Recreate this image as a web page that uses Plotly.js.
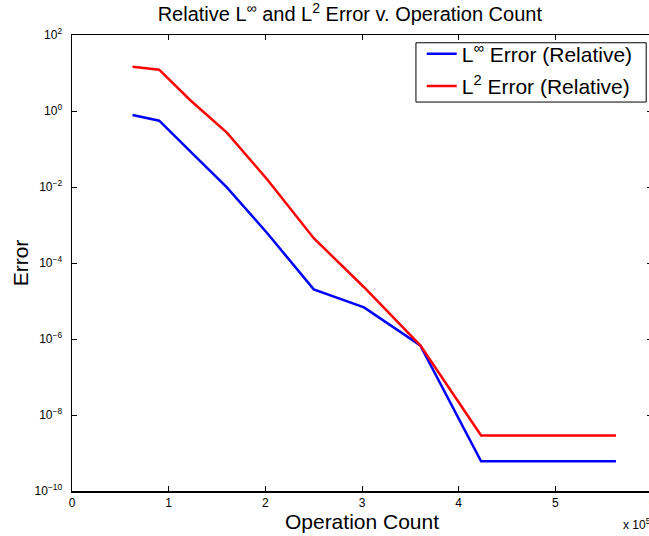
<!DOCTYPE html>
<html>
<head>
<meta charset="utf-8">
<script src="https://cdn.plot.ly/plotly-3.0.1.min.js"></script>
<style>
html,body{margin:0;padding:0;overflow:hidden;background:#fff;}
#chart{width:660px;height:536px;}
</style>
</head>
<body>
<div id="chart"></div>
<script>
// Operation count (x 10^5)
var opCount = [0.626, 0.902, 1.221, 1.602, 2.018, 2.501, 3.021, 3.603, 4.232, 5.627];
// Relative L-infinity error
var linfError = [0.785, 0.556, 0.0885, 0.0098, 6.15e-4, 2.03e-5, 6.8e-6, 6.8e-7, 6.05e-10, 6.05e-10];
// Relative L2 error
var l2Error = [14.7, 12.2, 1.95, 0.269, 0.016, 4.5e-4, 2.3e-5, 6.8e-7, 2.9e-9, 2.9e-9];

var yTickVals = [1e-10, 1e-8, 1e-6, 1e-4, 1e-2, 1e0, 1e2];
var yTickText = ['10<sup>−10</sup>', '10<sup>−8</sup>', '10<sup>−6</sup>', '10<sup>−4</sup>', '10<sup>−2</sup>', '10<sup>0</sup>', '10<sup>2</sup>'];
var xTickVals = [0, 1, 2, 3, 4, 5, 6];
var xTickText = ['0', '1', '2', '3', '4', '5', '6'];

var FONT = 'Liberation Sans, Arial, Helvetica, sans-serif';

var traces = [
  {x: opCount, y: linfError, type: 'scatter', mode: 'lines', name: 'L<sup>∞</sup> Error (Relative)',
   legendgroup: 'a', line: {color: '#0000ff', width: 2.5}},
  {x: opCount, y: l2Error, type: 'scatter', mode: 'lines', name: 'L<sup>2</sup> Error (Relative)',
   legendgroup: 'b', line: {color: '#ff0000', width: 2.5}}
];

var layout = {
  width: 660, height: 536,
  margin: {l: 72, r: 8, t: 35, b: 45},
  paper_bgcolor: '#fff', plot_bgcolor: '#fff',
  font: {family: FONT, color: '#000', size: 12},
  title: {text: 'Relative L<sup>∞</sup> and L<sup>2</sup> Error v. Operation Count',
          font: {family: FONT, size: 20, color: '#000'},
          x: 0.479, xref: 'paper', xanchor: 'center', y: 0.973, yref: 'container', yanchor: 'middle'},
  xaxis: {range: [0, 6], tickmode: 'array', tickvals: xTickVals, ticktext: xTickText,
          ticks: 'inside', ticklen: 5, tickcolor: '#000', showline: true, linecolor: '#000', linewidth: 1.5,
          mirror: 'ticks', showgrid: false, zeroline: false,
          tickfont: {size: 12, family: FONT},
          title: {text: 'Operation Count', font: {size: 21, family: FONT}, standoff: 5}},
  yaxis: {type: 'log', range: [-10, 2], tickmode: 'array', tickvals: yTickVals, ticktext: yTickText,
          ticks: 'inside', ticklen: 5, tickcolor: '#000', showline: true, linecolor: '#000', linewidth: 1.5,
          mirror: 'ticks', showgrid: false, zeroline: false, ticklabelstandoff: 6,
          tickfont: {size: 12, family: FONT},
          title: {text: 'Error', font: {size: 21, family: FONT}, standoff: 0}},
  legend: {x: 0.603, y: 1.003, xanchor: 'left', yanchor: 'top', bgcolor: 'rgba(0,0,0,0)',
           borderwidth: 0, font: {size: 21, family: FONT},
           traceorder: 'grouped', tracegroupgap: 2},
  showlegend: true,
  shapes: [
    {type: 'rect', xref: 'paper', yref: 'paper', x0: 0.593, x1: 0.990, y0: 0.853, y1: 0.983,
     line: {color: '#000', width: 1}, fillcolor: '#fff', layer: 'below'}
  ],
  annotations: [
    {text: 'x 10<sup>5</sup>', xref: 'paper', yref: 'paper', x: 0.947, y: -0.072, xanchor: 'left', yanchor: 'middle',
     showarrow: false, font: {size: 12, family: FONT}}
  ]
};

Plotly.newPlot('chart', traces, layout, {displayModeBar: false, staticPlot: true});
</script>
</body>
</html>
